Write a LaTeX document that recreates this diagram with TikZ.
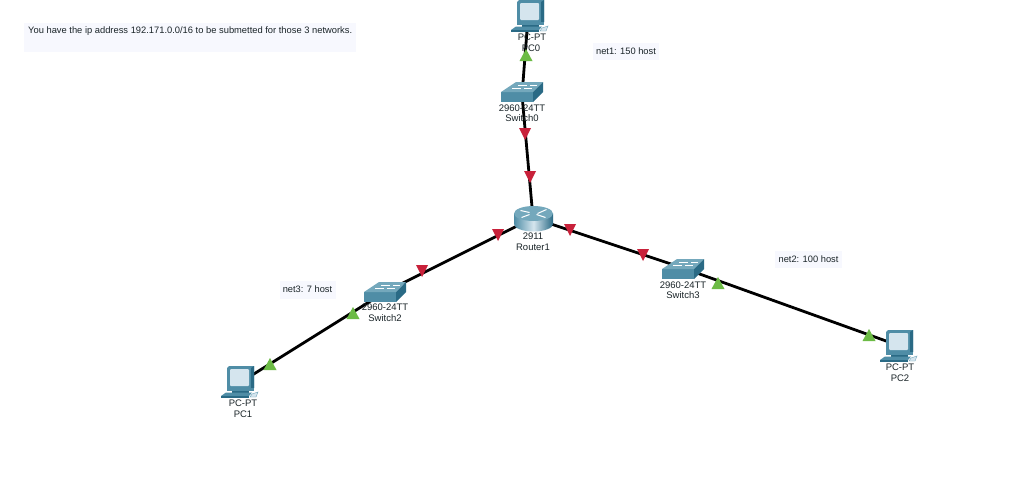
\documentclass[tikz,border=0pt]{standalone}
\usepackage{fontspec}
\setmainfont{Liberation Sans}
\definecolor{teal1}{HTML}{4F8DA6}
\definecolor{teal2}{HTML}{2A6A85}
\definecolor{teal3}{HTML}{74A8BC}
\definecolor{screen}{HTML}{D5E5EE}
\definecolor{boxbg}{HTML}{F7F8FE}
\definecolor{redm}{HTML}{C8213A}
\definecolor{greenm}{HTML}{6CBB45}
\definecolor{txt}{HTML}{1A2428}
\tikzset{
  dev/.style={inner sep=0pt,minimum size=0pt},
  link/.style={line width=2.8pt,black},
  lab/.style={font=\fontsize{9.5}{9.5}\selectfont,text=txt,inner sep=0pt,anchor=center},
  note/.style={fill=boxbg,inner sep=0pt,font=\fontsize{9.3}{9.5}\selectfont,text=txt},
  up/.style={fill=greenm,draw=none},
  down/.style={fill=redm,draw=none},
  pcicon/.pic={
    \fill[teal1] (-14,-14) -- (-12,-16) -- (13,-16) -- (13,6) -- (-14,6) -- cycle;
    \fill[teal2] (10,-14) -- (13,-16) -- (13,6) -- (10,6) -- cycle;
    \fill[screen,rounded corners=1pt] (-11,-13) -- (8,-13) -- (8,4) -- (-11,4) -- cycle;
    \fill[teal1] (-14,6) -- (13,6) -- (13,9) -- (-14,9) -- cycle;
    \fill[teal2] (-9,9) rectangle (8,10.5);
    \fill[teal1] (-15,10.5) -- (11,10.5) -- (8,14) -- (-20,14) -- cycle;
    \fill[teal2] (-20,14) rectangle (8,15.5);
    \fill[screen,draw=teal3,line width=.4pt] (11,12) -- (17,10) -- (15,15) -- (9,15) -- cycle;
  },
  swicon/.pic={
    \fill[teal1] (-21,0) -- (11,0) -- (11,10) -- (-21,10) -- cycle;
    \fill[teal3] (-21,0) -- (-6,-10) -- (21,-10) -- (11,0) -- cycle;
    \fill[teal2] (11,0) -- (21,-10) -- (21,0) -- (11,10) -- cycle;
    \draw[white,line width=.6pt] (-10,-4) -- (-1,-4) (-4,-7) -- (5,-7) (2,-4) -- (10,-4) (8,-7) -- (15,-7);
  },
  rticon/.pic={
    \shade[left color=teal1,right color=teal2,middle color=screen] (-19.5,-5) -- (-19.5,5.5) arc[start angle=180,end angle=0,x radius=19.5,y radius=7.5] -- (19.5,-5) -- cycle;
    \fill[teal3] (0,-5) ellipse[x radius=19.5,y radius=7.5];
    \draw[white,line width=1pt] (-13,-8) -- (-4,-6) (13,-9) -- (4,-5) (-12,-1) -- (-4,-4) (12,-1) -- (3,-4);
  }
}
\begin{document}
\begin{tikzpicture}[x=1pt,y=-1pt]
\useasboundingbox (0,0) rectangle (1024,485);
\fill[white] (0,0) rectangle (1024,485);
% notes
\fill[boxbg] (24,23) rectangle (356,52);
\node[lab,anchor=west,font=\fontsize{9.35}{9.5}\selectfont] (note0) at (28,31) {You have the ip address 192.171.0.0/16 to be submetted for those 3 networks.};
\node[note,minimum width=66pt,minimum height=17pt] (net1) at (626,51) {net1: 150 host};
\node[note,minimum width=67pt,minimum height=17pt] (net2) at (808.5,259.5) {net2: 100 host};
\node[note,minimum width=56pt,minimum height=18pt] (net3) at (307.5,289.5) {net3: 7 host};
% device anchors
\node[dev] (pc0) at (528,18) {};
\node[dev] (sw0) at (522,95) {};
\node[dev] (r1) at (533,218) {};
\node[dev] (sw3) at (683,268) {};
\node[dev] (pc2) at (900,346) {};
\node[dev] (sw2) at (385,292) {};
\node[dev] (pc1) at (241,382) {};
% links
\draw[link] (pc0) -- (sw0);
\draw[link] (sw0) -- (r1);
\draw[link] (r1) -- (sw3);
\draw[link] (sw3) -- (pc2);
\draw[link] (r1) -- (sw2);
\draw[link] (sw2) -- (pc1);
% icons
\pic at (531,16) {pcicon};
\pic at (522,92) {swicon};
\pic at (533.5,218.5) {rticon};
\pic at (683,269) {swicon};
\pic at (900,346) {pcicon};
\pic at (385,292) {swicon};
\pic at (241,382) {pcicon};
% link lights
\foreach \x/\y in {526/55,718/283,869/335,353/313,270/364}
  \fill[up] (\x-6.5,\y+6) -- (\x+6.5,\y+6) -- (\x,\y-6) -- cycle;
\foreach \x/\y in {525/134,530/177,570/230,643/255,422/271,498/235}
  \fill[down] (\x-6,\y-6) -- (\x+6,\y-6) -- (\x,\y+6) -- cycle;
% labels
\node[lab] (l1) at (532,37) {PC-PT};
\node[lab] (l2) at (531,48) {PC0};
\node[lab] (l3) at (522,108) {2960-24TT};
\node[lab] (l4) at (522,118.5) {Switch0};
\node[lab] (l5) at (533,236.5) {2911};
\node[lab] (l6) at (533,247.5) {Router1};
\node[lab] (l7) at (683,285) {2960-24TT};
\node[lab] (l8) at (683,295.5) {Switch3};
\node[lab] (l9) at (900,367.5) {PC-PT};
\node[lab] (l10) at (900,378) {PC2};
\node[lab] (l11) at (243,403.5) {PC-PT};
\node[lab] (l12) at (243,414.5) {PC1};
\node[lab] (l13) at (385,307.5) {2960-24TT};
\node[lab] (l14) at (385,318) {Switch2};
\end{tikzpicture}
\end{document}
